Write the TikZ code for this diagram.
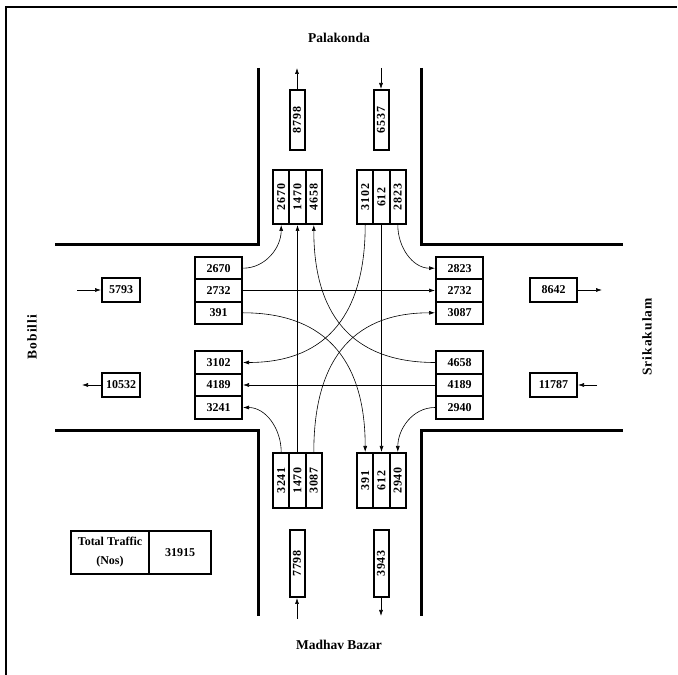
\documentclass[tikz,border=0pt]{standalone}
\usepackage{fontspec}
\setmainfont{Liberation Serif}
\newfontfamily\spacedfont[LetterSpace=8]{Liberation Serif}
\usepackage{graphicx}
\usepackage{tikz}
\usetikzlibrary{arrows.meta,positioning}
\newcommand{\vnum}[1]{\rotatebox{90}{\spacedfont #1}}
\tikzset{
  base/.style={font=\fontsize{12}{13}\selectfont\bfseries,align=center,draw=black,line width=2pt,inner sep=0pt,fill=white},
  hcell/.style={base,minimum width=47pt,minimum height=22.5pt},
  vcell/.style={base,minimum width=16.3pt,minimum height=54pt},
  total/.style={base,minimum width=15pt,minimum height=60pt},
  side/.style={base,minimum height=24pt},
  tcell/.style={base,line width=1.5pt,minimum height=43pt,font=\fontsize{12}{19}\selectfont\bfseries},
  place/.style={font=\fontsize{13.5}{15}\selectfont\bfseries},
  road/.style={line width=3pt},
  flow/.style={-{Latex[length=6pt,width=4pt]},line width=0.6pt}
}
\begin{document}
\begin{tikzpicture}[x=1pt,y=1pt]
\useasboundingbox (0,0) rectangle (678,675);
% frame
\draw[line width=2pt] (6,0) -- (6,668) -- (677,668);
% kerb lines
\draw[road] (258,607) -- (258,430) -- (55,430);
\draw[road] (421,607) -- (421,430) -- (623,430);
\draw[road] (258,59) -- (258,244) -- (55,244);
\draw[road] (421,59) -- (421,244) -- (623,244);

% place names
\node[place] (palakonda) at (339,637) {Palakonda};
\node[place] (madhav) at (339,30) {Madhav Bazar};
\node[place,rotate=90] (bobilli) at (32,338) {\spacedfont Bobilli};
\node[place,rotate=90] (srikakulam) at (647,338) {\spacedfont Srikakulam};

% approach totals
\node[total] (nout) at (297,555) {\vnum{8798}};
\node[total] (nin) at (381,555) {\vnum{6537}};
\node[total,minimum height=67pt] (sin) at (297,111.5) {\vnum{7798}};
\node[total,minimum height=67pt] (sout) at (381,111.5) {\vnum{3943}};
\node[side,minimum width=38pt] (win) at (121,385) {5793};
\node[side,minimum width=38pt] (wout) at (121,290) {10532};
\node[side,minimum width=47pt] (eout) at (553.5,385) {8642};
\node[side,minimum width=47pt] (ein) at (553.5,290) {11787};

\coordinate (noutend) at (297,607);
\coordinate (ninstart) at (381,607);
\coordinate (sinstart) at (297,56);
\coordinate (soutend) at (381,59);
\coordinate (winstart) at (77,385);
\coordinate (woutend) at (82,290);
\coordinate (eoutend) at (602,385);
\coordinate (einstart) at (597,290);

\draw[flow] (nout) -- (noutend);
\draw[flow] (ninstart) -- (nin);
\draw[flow] (sinstart) -- (sin);
\draw[flow] (sout) -- (soutend);
\draw[flow] (winstart) -- (win);
\draw[flow] (wout) -- (woutend);
\draw[flow] (eout) -- (eoutend);
\draw[flow] (einstart) -- (ein);

% north approach
\node[vcell] (nl1) at (281.2,478) {\vnum{2670}};
\node[vcell] (nl2) at (297.5,478) {\vnum{1470}};
\node[vcell] (nl3) at (313.8,478) {\vnum{4658}};
\node[vcell] (nr1) at (365.2,478) {\vnum{3102}};
\node[vcell] (nr2) at (381.5,478) {\vnum{612}};
\node[vcell] (nr3) at (397.8,478) {\vnum{2823}};

% south approach
\node[vcell,minimum height=55pt] (sl1) at (281.2,194.5) {\vnum{3241}};
\node[vcell,minimum height=55pt] (sl2) at (297.5,194.5) {\vnum{1470}};
\node[vcell,minimum height=55pt] (sl3) at (313.8,194.5) {\vnum{3087}};
\node[vcell,minimum height=55pt] (sr1) at (365.2,194.5) {\vnum{391}};
\node[vcell,minimum height=55pt] (sr2) at (381.5,194.5) {\vnum{612}};
\node[vcell,minimum height=55pt] (sr3) at (397.8,194.5) {\vnum{2940}};

% west approach
\node[hcell] (wt1) at (218.5,406.8) {2670};
\node[hcell] (wt2) at (218.5,384.5) {2732};
\node[hcell] (wt3) at (218.5,362.2) {391};
\node[hcell] (wb1) at (218.5,312.5) {3102};
\node[hcell] (wb2) at (218.5,290) {4189};
\node[hcell] (wb3) at (218.5,267.5) {3241};

% east approach
\node[hcell] (et1) at (459.5,406.8) {2823};
\node[hcell] (et2) at (459.5,384.5) {2732};
\node[hcell] (et3) at (459.5,362.2) {3087};
\node[hcell] (eb1) at (459.5,312.5) {4658};
\node[hcell] (eb2) at (459.5,290) {4189};
\node[hcell] (eb3) at (459.5,267.5) {2940};

% turning movements
\draw[flow] (wt1.east) to[out=0,in=-90] (nl1.south);
\draw[flow] (sl2.north) -- (nl2.south);
\draw[flow] (eb1.west) to[out=180,in=-90,looseness=1.2] (nl3.south);
\draw[flow] (nr1.south) to[out=-90,in=0,looseness=1.2] (wb1.east);
\draw[flow] (nr2.south) -- (sr2.north);
\draw[flow] (nr3.south) to[out=-90,in=180] (et1.west);
\draw[flow] (wt2.east) -- (et2.west);
\draw[flow] (wt3.east) to[out=0,in=90,looseness=1.2] (sr1.north);
\draw[flow] (eb2.west) -- (wb2.east);
\draw[flow] (eb3.west) to[out=180,in=90] (sr3.north);
\draw[flow] (sl1.north) to[out=90,in=0] (wb3.east);
\draw[flow] (sl3.north) to[out=90,in=180,looseness=1.2] (et3.west);

% total traffic
\node[tcell,minimum width=78pt] (ttlabel) at (110,122.5) {Total Traffic\\(Nos)};
\node[tcell,minimum width=62pt] (ttvalue) at (180,122.5) {31915};
\end{tikzpicture}
\end{document}
